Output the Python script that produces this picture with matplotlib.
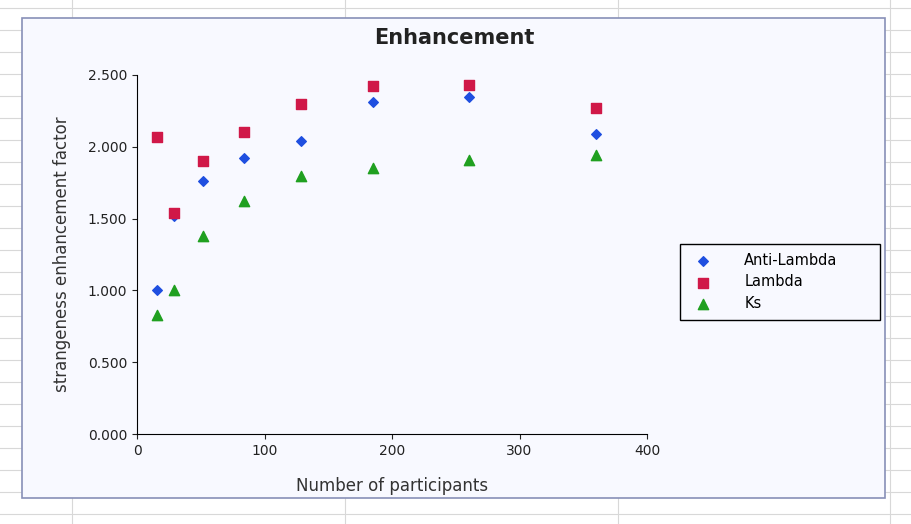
import matplotlib
matplotlib.use("Agg")
import matplotlib.pyplot as plt
from matplotlib.patches import Rectangle
from matplotlib.lines import Line2D
from matplotlib.ticker import FormatStrFormatter

participants = [16, 29, 52, 84, 129, 185, 260, 360]
anti_lambda = [1.00, 1.52, 1.76, 1.92, 2.04, 2.31, 2.35, 2.09]
lam = [2.07, 1.54, 1.90, 2.10, 2.30, 2.42, 2.43, 2.27]
ks = [0.83, 1.00, 1.38, 1.62, 1.80, 1.85, 1.91, 1.94]

W, H = 911, 524
fig = plt.figure(figsize=(W/100, H/100), dpi=100)
fig.patch.set_facecolor("white")
for y in range(8, H, 22):
    fig.add_artist(Line2D([0, 1], [1-y/H, 1-y/H], color="#d8d8d8", lw=0.8, zorder=-3))
for x in [72, 345, 618, 890]:
    fig.add_artist(Line2D([x/W, x/W], [0, 1], color="#d8d8d8", lw=0.8, zorder=-3))
fig.add_artist(Rectangle((22/W, 1-498/H), (885-22)/W, (498-18)/H, transform=fig.transFigure,
                         facecolor="#f8f9ff", edgecolor="#8890b8", lw=1.2, zorder=-2))

ax = fig.add_axes([137/W, 1-434/H, 510/W, 359/H])
ax.set_zorder(1)
ax.set_facecolor("none")
ax.scatter(participants, anti_lambda, marker="D", s=24, color="#1f4fe0", label="Anti-Lambda", zorder=3)
ax.scatter(participants, lam, marker="s", s=50, color="#d01848", label="Lambda", zorder=3)
ax.scatter(participants, ks, marker="^", s=55, color="#20a020", label="Ks", zorder=3)
ax.set_xlim(0, 400)
ax.set_ylim(0, 2.5)
ax.set_xticks([0, 100, 200, 300, 400])
ax.set_yticks([0, 0.5, 1.0, 1.5, 2.0, 2.5])
ax.yaxis.set_major_formatter(FormatStrFormatter("%.3f"))
for s in ["top", "right"]:
    ax.spines[s].set_visible(False)
ax.tick_params(labelsize=10, direction="out", colors="#222222")
ax.set_xlabel("Number of participants", fontsize=12, labelpad=14, color="#333333")
ax.set_ylabel("strangeness enhancement factor", fontsize=12, labelpad=12, color="#333333")
fig.text(454/W, 1-38/H, "Enhancement", ha="center", va="center", fontsize=15, weight="bold", color="#222222")
leg = ax.legend(loc="center", bbox_to_anchor=(680/W, 1-325/H, 200/W, 86/H), bbox_transform=fig.transFigure,
                mode="expand", fontsize=10.5, frameon=True, fancybox=False, edgecolor="black",
                borderpad=0.6, handletextpad=1.8, borderaxespad=0, framealpha=1, facecolor="#f8f9ff",
                labelspacing=0.45)
leg.get_frame().set_linewidth(1.0)
fig.savefig("out.png", dpi=100)
